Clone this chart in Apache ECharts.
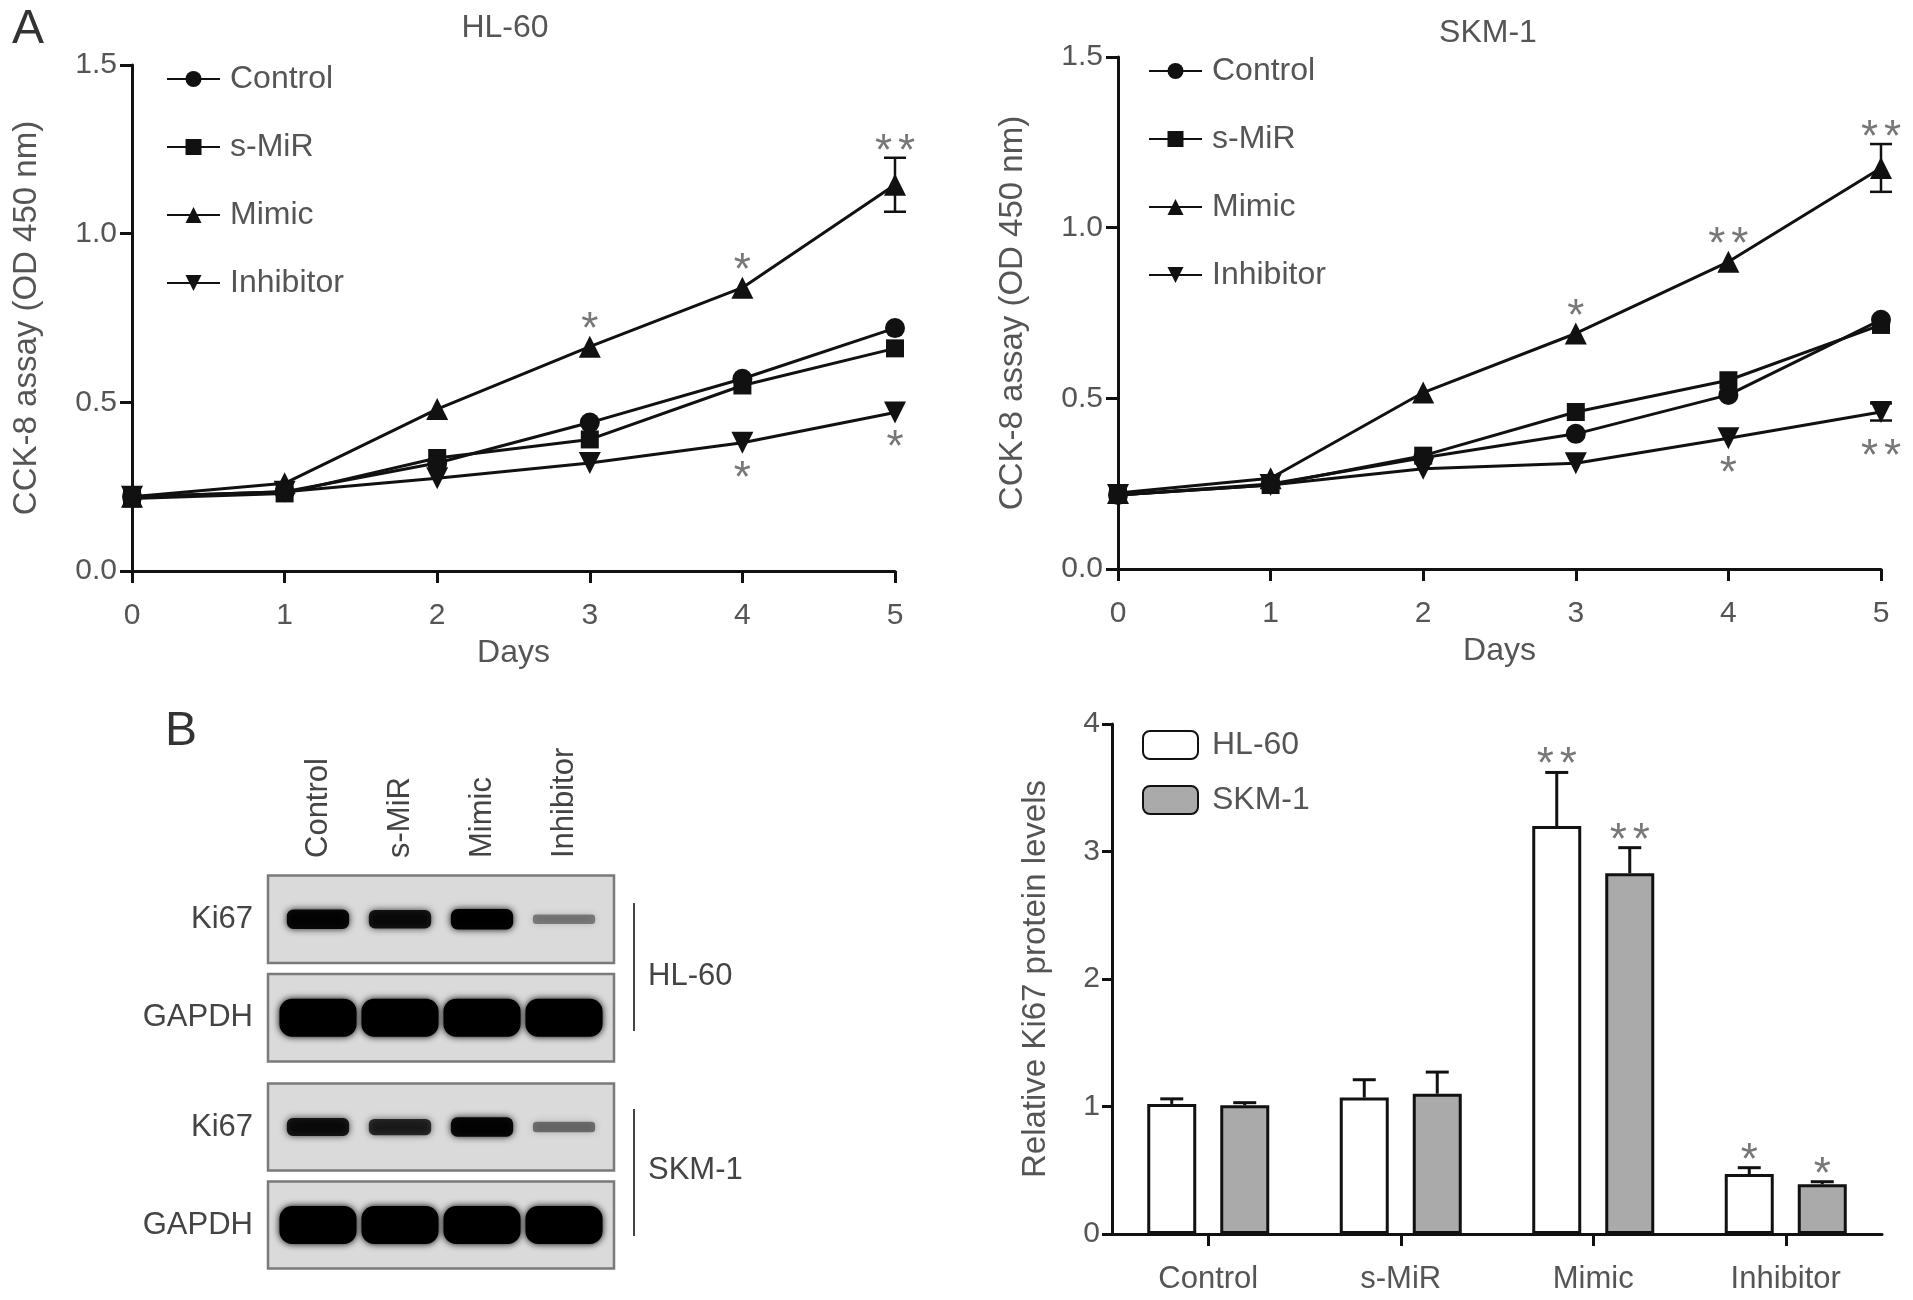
<!DOCTYPE html>
<html>
<head>
<meta charset="utf-8">
<title>CCK-8 and Ki67</title>
<script src="https://cdn.jsdelivr.net/npm/echarts@6/dist/echarts.min.js"></script>
<style>
  html, body { margin: 0; padding: 0; background: #fff; }
  #chart { width: 1913px; height: 1300px; }
</style>
</head>
<body>
<div id="chart"></div>
<script>
// ---- data ----
const days = [0, 1, 2, 3, 4, 5];

// HL-60 CCK-8 (OD 450 nm)
const hlControl   = [0.22, 0.235, 0.32, 0.44, 0.57, 0.72];
const hlSMiR      = [0.215, 0.23, 0.335, 0.39, 0.55, 0.66];
const hlMimic     = [0.22, 0.26, 0.48, 0.665, 0.84, 1.145];
const hlInhibitor = [0.22, 0.235, 0.275, 0.32, 0.38, 0.47];
const hlMimicSd     = [0, 0, 0, 0, 0, 0.08];
const hlInhibitorSd = [0, 0, 0, 0, 0, 0];
const hlMimicStars     = ['', '', '', '*', '*', '**'];
const hlInhibitorStars = ['', '', '', '', '*', '*'];

// SKM-1 CCK-8 (OD 450 nm)
const skmControl   = [0.217, 0.249, 0.326, 0.396, 0.51, 0.73];
const skmSMiR      = [0.217, 0.246, 0.332, 0.46, 0.553, 0.715];
const skmMimic     = [0.223, 0.266, 0.517, 0.69, 0.90, 1.175];
const skmInhibitor = [0.217, 0.246, 0.294, 0.31, 0.383, 0.46];
const skmMimicSd     = [0, 0, 0, 0, 0, 0.07];
const skmInhibitorSd = [0, 0, 0, 0, 0, 0.025];
const skmMimicStars     = ['', '', '', '*', '**', '**'];
const skmInhibitorStars = ['', '', '', '', '*', '**'];

// Relative Ki67 protein levels
const groups = ['Control', 's-MiR', 'Mimic', 'Inhibitor'];
const hlKi67    = [1.02, 1.07, 3.20, 0.47];
const hlKi67Sd  = [0.04, 0.14, 0.42, 0.05];
const skmKi67   = [1.01, 1.10, 2.83, 0.39];
const skmKi67Sd = [0.02, 0.17, 0.20, 0.02];
const hlKi67Stars  = ['', '', '**', '*'];
const skmKi67Stars = ['', '', '**', '*'];

// western blot band density (0..1), rows x lanes
const blotRows = ['Ki67', 'GAPDH'];
const hlBlot  = [[0.92, 0.86, 0.97, 0.4], [1, 1, 1, 1]];
const skmBlot = [[0.85, 0.75, 0.92, 0.45], [1, 1, 1, 1]];

// ---- styling ----
const ink = '#111';
const textGray = '#555';
const font = "'Liberation Sans', Arial, sans-serif";

const chartDom = document.getElementById('chart');
const myChart = echarts.init(chartDom);

function lineSeries(name, values, symbol, rotate, size, idx) {
    return {
        name: name,
        type: 'line',
        xAxisIndex: idx,
        yAxisIndex: idx,
        data: days.map((d, i) => [d, values[i]]),
        symbol: symbol,
        symbolRotate: rotate,
        symbolSize: size,
        lineStyle: { color: ink, width: 3 },
        itemStyle: { color: ink },
        z: 3
    };
}

// error bars on line charts
function errSeries(values, sds, idx) {
    return {
        type: 'custom',
        xAxisIndex: idx,
        yAxisIndex: idx,
        data: days.map((d, i) => [d, values[i], sds[i]]).filter(r => r[2] > 0),
        z: 4,
        renderItem(params, api) {
            const x = api.value(0), v = api.value(1), sd = api.value(2);
            const t = api.coord([x, v + sd]);
            const b = api.coord([x, v - sd]);
            const cap = 11;
            const st = { stroke: ink, lineWidth: 2.5 };
            return {
                type: 'group',
                children: [
                    { type: 'line', shape: { x1: t[0], y1: t[1], x2: b[0], y2: b[1] }, style: st },
                    { type: 'line', shape: { x1: t[0] - cap, y1: t[1], x2: t[0] + cap, y2: t[1] }, style: st },
                    { type: 'line', shape: { x1: b[0] - cap, y1: b[1], x2: b[0] + cap, y2: b[1] }, style: st }
                ]
            };
        }
    };
}

function starGlyphs(cx, cy, n) {
    const fs = 44;
    const out = [];
    for (let k = 0; k < n; k++) {
        out.push({
            type: 'text',
            style: {
                text: '*', x: cx + (k - (n - 1) / 2) * 23, y: cy + fs * 0.27,
                fill: '#777', font: fs + 'px ' + font,
                align: 'center', verticalAlign: 'middle'
            }
        });
    }
    return out;
}

// significance stars on line charts; dir 1 = above, -1 = below
function starSeries(values, sds, stars, dir, idx) {
    return {
        type: 'custom',
        xAxisIndex: idx,
        yAxisIndex: idx,
        data: days.map((d, i) => [d, values[i] + dir * sds[i], stars[i].length, sds[i] > 0 ? 1 : 0])
                  .filter(r => r[2] > 0),
        z: 5,
        renderItem(params, api) {
            const p = api.coord([api.value(0), api.value(1)]);
            const hasErr = api.value(3) > 0;
            const off = dir > 0 ? (hasErr ? 17 : 28) : 25;
            return { type: 'group', children: starGlyphs(p[0], p[1] - dir * off, api.value(2)) };
        }
    };
}

// bar error bars (upward only) and stars, shifted to the bar of each series
function barErrSeries(values, sds, stars, shift) {
    return {
        type: 'custom',
        xAxisIndex: 2,
        yAxisIndex: 2,
        data: groups.map((g, i) => [i, values[i], sds[i], stars[i].length]),
        z: 5,
        renderItem(params, api) {
            const i = api.value(0), v = api.value(1), sd = api.value(2);
            const b = api.coord([i, v]);
            const t = api.coord([i, v + sd]);
            const x = b[0] + shift;
            const st = { stroke: ink, lineWidth: 3 };
            const kids = [
                { type: 'line', shape: { x1: x, y1: b[1], x2: x, y2: t[1] }, style: st },
                { type: 'line', shape: { x1: x - 11.5, y1: t[1], x2: x + 11.5, y2: t[1] }, style: st }
            ];
            return { type: 'group', children: kids.concat(starGlyphs(x, t[1] - 18, api.value(3))) };
        }
    };
}

// blot panels (grey membrane strips)
function panelSeries(idx) {
    return {
        type: 'custom',
        xAxisIndex: idx,
        yAxisIndex: idx,
        data: blotRows.map((r, i) => [0, i]),
        z: 1,
        renderItem(params, api) {
            const cs = params.coordSys;
            const c = api.coord([0, api.value(1)]);
            const sz = api.size([1, 1]);
            const inset = 5.5;
            return {
                type: 'rect',
                shape: { x: cs.x - 9, y: c[1] - sz[1] / 2 + inset, width: cs.width + 18, height: sz[1] - 2 * inset },
                style: { fill: '#dadada', stroke: '#7a7a7a', lineWidth: 2.5 }
            };
        }
    };
}

// blot bands
function bandSeries(density, idx) {
    const data = [];
    density.forEach((row, r) => row.forEach((d, l) => data.push([l, r, d])));
    return {
        type: 'custom',
        xAxisIndex: idx,
        yAxisIndex: idx,
        data: data,
        z: 2,
        renderItem(params, api) {
            const l = api.value(0), r = api.value(1), d = api.value(2);
            const c = api.coord([l, r]);
            const sz = api.size([1, 1]);
            const w = r === 0 ? sz[0] * 0.76 : sz[0] * 0.94;
            const h = r === 0 ? 2 + 19 * d : 38;
            const col = 'rgba(0,0,0,' + d.toFixed(2) + ')';
            return {
                type: 'rect',
                shape: { x: c[0] - w / 2, y: c[1] - h / 2, width: w, height: h, r: h / 3 },
                style: { fill: col, shadowBlur: 7, shadowColor: col }
            };
        }
    };
}

const axisLineStyle = { show: true, lineStyle: { color: ink, width: 3 } };
const tickStyle = { show: true, length: 12, lineStyle: { color: ink, width: 3 } };
const labelStyle = { color: textGray, fontSize: 30, fontFamily: font };

function daysAxis(idx) {
    return {
        type: 'value', gridIndex: idx, min: 0, max: 5, interval: 1,
        name: 'Days', nameLocation: 'middle', nameGap: 66,
        nameTextStyle: { color: textGray, fontSize: 32, fontFamily: font },
        axisLine: axisLineStyle, axisTick: tickStyle,
        axisLabel: Object.assign({ margin: 30 }, labelStyle),
        splitLine: { show: false }
    };
}

function odAxis(idx) {
    return {
        type: 'value', gridIndex: idx, min: 0, max: 1.5, interval: 0.5,
        name: 'CCK-8 assay (OD 450 nm)', nameLocation: 'middle', nameGap: 89,
        nameTextStyle: { color: textGray, fontSize: 33, fontFamily: font },
        axisLine: axisLineStyle, axisTick: tickStyle,
        axisLabel: Object.assign({ margin: 15, formatter: v => v.toFixed(1) }, labelStyle),
        splitLine: { show: false }
    };
}

function lineLegend(left, top) {
    return {
        orient: 'vertical', left: left, top: top,
        itemWidth: 53, itemHeight: 20, itemGap: 34,
        selectedMode: false,
        textStyle: { color: textGray, fontSize: 32, fontFamily: font, lineHeight: 34, padding: [0, 0, 0, 5] },
        data: ['Control', 's-MiR', 'Mimic', 'Inhibitor']
    };
}

function blotLaneAxis(idx, showLabels) {
    return {
        type: 'category', gridIndex: idx, data: groups, position: 'top',
        axisLine: { show: false }, axisTick: { show: false },
        axisLabel: { show: showLabels, rotate: -90, margin: 12, color: '#444', fontSize: 31, fontFamily: font }
    };
}

function blotRowAxis(idx) {
    return {
        type: 'category', gridIndex: idx, data: blotRows, inverse: true,
        axisLine: { show: false }, axisTick: { show: false },
        axisLabel: { margin: 24, color: '#444', fontSize: 31, fontFamily: font }
    };
}

const option = {
    backgroundColor: '#fff',
    animation: false,
    textStyle: { fontFamily: font },
    grid: [
        { left: 132, top: 65, width: 763, height: 506 },   // HL-60 curve
        { left: 1118, top: 57, width: 763, height: 512 },  // SKM-1 curve
        { left: 1112, top: 724, width: 770, height: 510 }, // Ki67 bars
        { left: 277, top: 870, width: 328, height: 197 },  // HL-60 blot
        { left: 277, top: 1078, width: 328, height: 196 }  // SKM-1 blot
    ],
    legend: [
        lineLegend(161, 57),
        lineLegend(1143, 49),
        {
            orient: 'vertical', left: 1137, top: 724,
            itemWidth: 55, itemHeight: 28, itemGap: 23,
            selectedMode: false,
            textStyle: { color: textGray, fontSize: 32, fontFamily: font, padding: [0, 0, 0, 9] },
            data: ['HL-60', 'SKM-1']
        }
    ],
    xAxis: [
        daysAxis(0),
        daysAxis(1),
        {
            type: 'category', gridIndex: 2, data: groups,
            axisLine: axisLineStyle,
            axisTick: Object.assign({ alignWithLabel: true }, tickStyle),
            axisLabel: Object.assign({ margin: 30 }, labelStyle, { fontSize: 31 })
        },
        blotLaneAxis(3, true),
        blotLaneAxis(4, false)
    ],
    yAxis: [
        odAxis(0),
        odAxis(1),
        {
            type: 'value', gridIndex: 2, min: 0, max: 4, interval: 1,
            name: 'Relative Ki67 protein levels', nameLocation: 'middle', nameGap: 60,
            nameTextStyle: { color: textGray, fontSize: 33, fontFamily: font },
            axisLine: axisLineStyle, axisTick: Object.assign({}, tickStyle, { length: 10 }),
            axisLabel: Object.assign({ margin: 12 }, labelStyle),
            splitLine: { show: false }
        },
        blotRowAxis(3),
        blotRowAxis(4)
    ],
    series: [
        lineSeries('Control', hlControl, 'circle', 0, 20, 0),
        lineSeries('s-MiR', hlSMiR, 'rect', 0, 18, 0),
        lineSeries('Mimic', hlMimic, 'triangle', 0, 22, 0),
        lineSeries('Inhibitor', hlInhibitor, 'triangle', 180, 22, 0),
        errSeries(hlMimic, hlMimicSd, 0),
        errSeries(hlInhibitor, hlInhibitorSd, 0),
        starSeries(hlMimic, hlMimicSd, hlMimicStars, 1, 0),
        starSeries(hlInhibitor, hlInhibitorSd, hlInhibitorStars, -1, 0),

        lineSeries('Control', skmControl, 'circle', 0, 20, 1),
        lineSeries('s-MiR', skmSMiR, 'rect', 0, 18, 1),
        lineSeries('Mimic', skmMimic, 'triangle', 0, 22, 1),
        lineSeries('Inhibitor', skmInhibitor, 'triangle', 180, 22, 1),
        errSeries(skmMimic, skmMimicSd, 1),
        errSeries(skmInhibitor, skmInhibitorSd, 1),
        starSeries(skmMimic, skmMimicSd, skmMimicStars, 1, 1),
        starSeries(skmInhibitor, skmInhibitorSd, skmInhibitorStars, -1, 1),

        {
            name: 'HL-60', type: 'bar', xAxisIndex: 2, yAxisIndex: 2,
            data: hlKi67, barWidth: 49, barGap: '49%',
            itemStyle: { color: '#fff', borderColor: ink, borderWidth: 3 }
        },
        {
            name: 'SKM-1', type: 'bar', xAxisIndex: 2, yAxisIndex: 2,
            data: skmKi67, barWidth: 49, barGap: '49%',
            itemStyle: { color: '#aaaaaa', borderColor: ink, borderWidth: 3 }
        },
        barErrSeries(hlKi67, hlKi67Sd, hlKi67Stars, -36.5),
        barErrSeries(skmKi67, skmKi67Sd, skmKi67Stars, 36.5),

        panelSeries(3),
        bandSeries(hlBlot, 3),
        panelSeries(4),
        bandSeries(skmBlot, 4)
    ],
    graphic: [
        { type: 'text', left: 12, top: 6, style: { text: 'A', fill: '#333', font: '48px ' + font } },
        { type: 'text', left: 165, top: 708, style: { text: 'B', fill: '#333', font: '48px ' + font } },
        { type: 'text', x: 505, y: 28, style: { text: 'HL-60', fill: textGray, font: '32px ' + font, align: 'center', verticalAlign: 'middle' } },
        { type: 'text', x: 1488, y: 33, style: { text: 'SKM-1', fill: textGray, font: '32px ' + font, align: 'center', verticalAlign: 'middle' } },
        { type: 'line', shape: { x1: 634, y1: 903, x2: 634, y2: 1031 }, style: { stroke: '#444', lineWidth: 2 } },
        { type: 'text', x: 648, y: 976, style: { text: 'HL-60', fill: '#444', font: '31px ' + font, verticalAlign: 'middle' } },
        { type: 'line', shape: { x1: 634, y1: 1109, x2: 634, y2: 1236 }, style: { stroke: '#444', lineWidth: 2 } },
        { type: 'text', x: 648, y: 1170, style: { text: 'SKM-1', fill: '#444', font: '31px ' + font, verticalAlign: 'middle' } }
    ]
};

myChart.setOption(option);
window.addEventListener('resize', () => myChart.resize());
</script>
</body>
</html>
